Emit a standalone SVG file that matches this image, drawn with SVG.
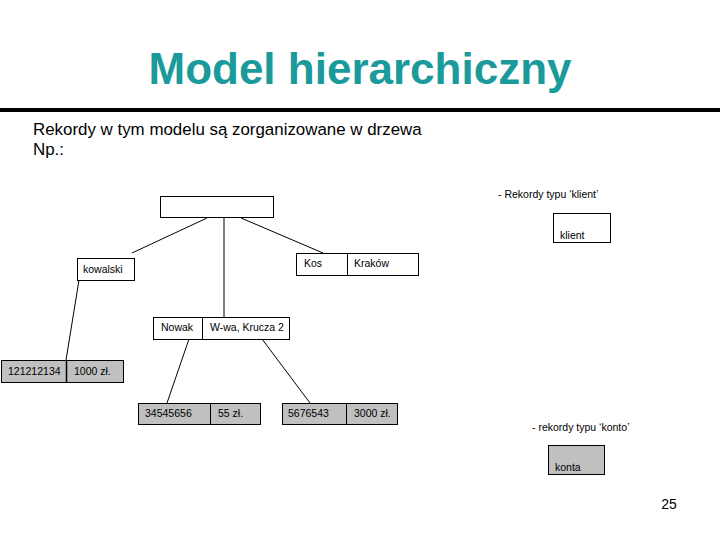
<svg xmlns="http://www.w3.org/2000/svg" width="720" height="540" viewBox="0 0 720 540">
<style>
text{font-family:"Liberation Sans",Arial,sans-serif;fill:#000}
.t{font-size:44px;font-weight:bold;fill:#1a9a9a}
.b{font-size:16.9px}
.s{font-size:10.5px}
.w{fill:#fff;stroke:#000;stroke-width:1}
.g{fill:#c0c0c0;stroke:#000;stroke-width:1}
.c line{stroke:#000;stroke-width:1}
</style>
<rect width="720" height="540" fill="#fff"/>
<text class="t" x="360" y="84" text-anchor="middle">Model hierarchiczny</text>
<rect x="0" y="108" width="720" height="4" fill="#000"/>
<text class="b" x="33" y="135">Rekordy w tym modelu są zorganizowane w drzewa</text>
<text class="b" x="33" y="155">Np.:</text>
<g class="c" id="connectors">
<line x1="207" y1="218" x2="132" y2="253"/>
<line x1="224" y1="218" x2="224" y2="317"/>
<line x1="241" y1="218" x2="323" y2="253"/>
<line x1="79" y1="280" x2="66" y2="360"/>
<line x1="189" y1="339" x2="167" y2="403"/>
<line x1="262" y1="339" x2="310" y2="403"/>
</g>
<g id="root"><rect class="w" x="160.5" y="196.5" width="113" height="21"/></g>
<g id="kowalski"><rect class="w" x="77.5" y="258.5" width="57" height="22"/><text class="s" x="83" y="273">kowalski</text></g>
<g id="kos"><rect class="w" x="296.5" y="253.5" width="122" height="22"/><line x1="347.5" y1="253.5" x2="347.5" y2="275.5" stroke="#000"/><text class="s" x="304" y="267">Kos</text><text class="s" x="354" y="267">Kraków</text></g>
<g id="nowak"><rect class="w" x="153.5" y="317.5" width="136" height="22"/><line x1="202.5" y1="317.5" x2="202.5" y2="339.5" stroke="#000"/><text class="s" x="161" y="331">Nowak</text><text class="s" x="210" y="331">W-wa, Krucza 2</text></g>
<g id="konto1"><rect class="g" x="1.5" y="360.5" width="122" height="22"/><line x1="66.5" y1="360.5" x2="66.5" y2="382.5" stroke="#000" stroke-width="1.5"/><text class="s" x="8" y="375">121212134</text><text class="s" x="74" y="375">1000 zł.</text></g>
<g id="konto2"><rect class="g" x="138.5" y="403.5" width="122" height="21"/><line x1="210.5" y1="403.5" x2="210.5" y2="424.5" stroke="#000"/><text class="s" x="145" y="417">34545656</text><text class="s" x="218" y="417">55 zł.</text></g>
<g id="konto3"><rect class="g" x="282.5" y="403.5" width="115" height="21"/><line x1="346.5" y1="403.5" x2="346.5" y2="424.5" stroke="#000"/><text class="s" x="288" y="417">5676543</text><text class="s" x="354" y="417">3000 zł.</text></g>
<g id="legend-klient"><text class="s" x="498" y="198">- Rekordy typu ‘klient’</text><rect class="w" x="553.5" y="213.5" width="57" height="29"/><text class="s" x="560" y="239">klient</text></g>
<g id="legend-konto"><text class="s" x="532" y="431">- rekordy typu ‘konto’</text><rect class="g" x="548.5" y="445.5" width="56" height="29"/><text class="s" x="555" y="471">konta</text></g>
<text x="669" y="509" font-size="14" text-anchor="middle" style="font-family:'Liberation Sans',Arial,sans-serif">25</text>
</svg>
